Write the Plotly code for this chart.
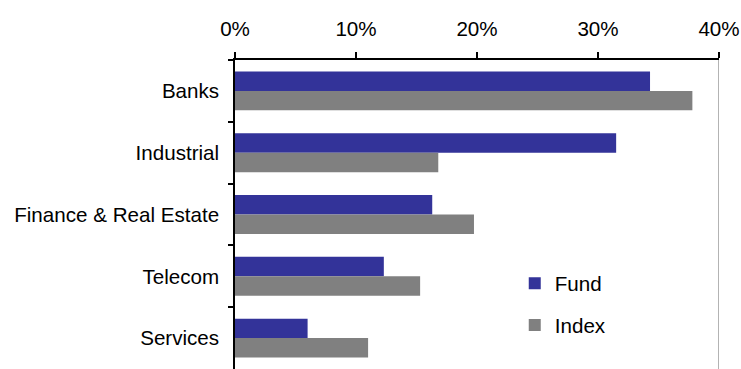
import plotly.graph_objects as go

categories = ["Banks", "Industrial", "Finance & Real Estate", "Telecom", "Services"]
fund = [34.3, 31.5, 16.3, 12.3, 6.0]
index_vals = [37.8, 16.8, 19.75, 15.3, 11.0]
x_ticks = [0, 10, 20, 30, 40]
x_tick_labels = ["0%", "10%", "20%", "30%", "40%"]

FONT = "Liberation Sans, Arial, sans-serif"

fig = go.Figure()
fig.add_trace(go.Bar(y=categories, x=fund, name="Fund", orientation="h",
                     marker=dict(color="#333399", line=dict(width=0)),
                     legendgroup="a"))
fig.add_trace(go.Bar(y=categories, x=index_vals, name="Index", orientation="h",
                     marker=dict(color="#808080", line=dict(width=0)),
                     legendgroup="b"))

fig.add_shape(type="line", xref="x", yref="paper", x0=40, x1=40, y0=0, y1=1,
              line=dict(color="#9a9a9a", width=1.5))

fig.update_layout(
    width=741, height=369,
    margin=dict(l=235, r=22, t=60, b=0),
    paper_bgcolor="white", plot_bgcolor="white",
    font=dict(family=FONT, size=20.6, color="black"),
    barmode="group", bargap=0.37, bargroupgap=0,
    showlegend=True,
    legend=dict(x=0.578, y=0.342, xanchor="left", yanchor="top",
                bgcolor="rgba(0,0,0,0)", font=dict(size=20.6),
                traceorder="grouped", tracegroupgap=12),
    xaxis=dict(side="top", range=[0, 40], tickvals=x_ticks, ticktext=x_tick_labels,
               showgrid=False, zeroline=False, showline=True, linecolor="black",
               linewidth=1.5, ticks="outside", ticklen=6, tickcolor="black",
               tickwidth=1.5, ticklabelstandoff=8, fixedrange=True),
    yaxis=dict(categoryorder="array", categoryarray=categories, autorange="reversed",
               showgrid=False, zeroline=False, showline=True, linecolor="black",
               linewidth=1.5, ticks="outside", ticklen=5, tickcolor="black",
               tickwidth=1.5, tickson="boundaries", ticklabelstandoff=10,
               fixedrange=True),
)

fig.write_html("out.html")
